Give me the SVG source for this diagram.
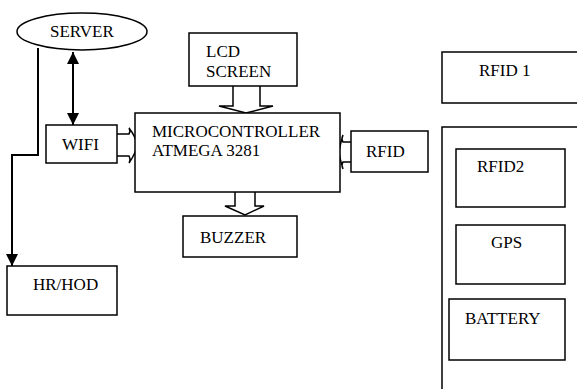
<svg xmlns="http://www.w3.org/2000/svg" width="577" height="389" viewBox="0 0 577 389">
<style>
.box{fill:#fff;stroke:#000;stroke-width:1.5}
.t{font-family:"Liberation Serif","Times New Roman",serif;font-size:17px;fill:#000}
.ln{fill:none;stroke:#000;stroke-width:2}
.ba{fill:#fff;stroke:#000;stroke-width:1.5}
</style>
<defs>
<marker id="ah" viewBox="0 0 10 10" refX="10" refY="5" markerWidth="12" markerHeight="12" markerUnits="userSpaceOnUse" orient="auto-start-reverse">
<path d="M0,0 L10,5 L0,10 z" fill="#000"/>
</marker>
</defs>
<rect width="577" height="389" fill="#fff"/>
<g id="connectors">
<path class="ln" d="M38,48 V155 H12 V266" marker-end="url(#ah)"/>
<line class="ln" x1="73" y1="52" x2="73" y2="125" marker-start="url(#ah)" marker-end="url(#ah)"/>
<path class="ba" d="M117,134 H129 Q131,131 129,128 Q136,137 137,145 Q136,153 129,163 Q131,160 129,156 H117"/>
<path class="ba" d="M233,86 V106 H219 L246,113 L273,106 H260 V86"/>
<path class="ba" d="M235,192 V206 H225 L245,215 L264,206 H255 V192"/>
<path class="ba" d="M351,142 H343 Q341,139 343,135 Q340,145 339,152 Q340,159 343,169 Q341,165 343,162 H351"/>
</g>
<g id="server">
<ellipse class="box" cx="82" cy="31.5" rx="65" ry="18.5"/>
<text class="t" x="50" y="37">SERVER</text>
</g>
<g id="wifi">
<rect class="box" x="46" y="125" width="71" height="38"/>
<text class="t" x="62" y="150">WIFI</text>
</g>
<g id="lcd">
<rect class="box" x="189" y="33" width="108" height="53"/>
<text class="t" x="206" y="57">LCD</text>
<text class="t" x="206" y="77">SCREEN</text>
</g>
<g id="mcu">
<rect class="box" x="135" y="113" width="205" height="79"/>
<text class="t" x="152" y="137">MICROCONTROLLER</text>
<text class="t" x="152" y="156">ATMEGA 3281</text>
</g>
<g id="rfid">
<rect class="box" x="351" y="131" width="77" height="41"/>
<text class="t" x="366" y="157">RFID</text>
</g>
<g id="buzzer">
<rect class="box" x="183" y="216" width="114" height="41"/>
<text class="t" x="200" y="243">BUZZER</text>
</g>
<g id="hrhod">
<rect class="box" x="7" y="266" width="110" height="49"/>
<text class="t" x="33" y="290">HR/HOD</text>
</g>
<g id="rfid1">
<path class="box" d="M580,52 H442 V103 H580"/>
<text class="t" x="479" y="76">RFID 1</text>
</g>
<g id="module">
<path class="box" d="M580,127 H442 V392"/>
</g>
<g id="rfid2">
<rect class="box" x="456" y="149" width="109" height="58"/>
<text class="t" x="477" y="172">RFID2</text>
</g>
<g id="gps">
<rect class="box" x="456" y="225" width="109" height="59"/>
<text class="t" x="491" y="248">GPS</text>
</g>
<g id="battery">
<rect class="box" x="449" y="299" width="116" height="61"/>
<text class="t" x="465" y="324">BATTERY</text>
</g>
</svg>
